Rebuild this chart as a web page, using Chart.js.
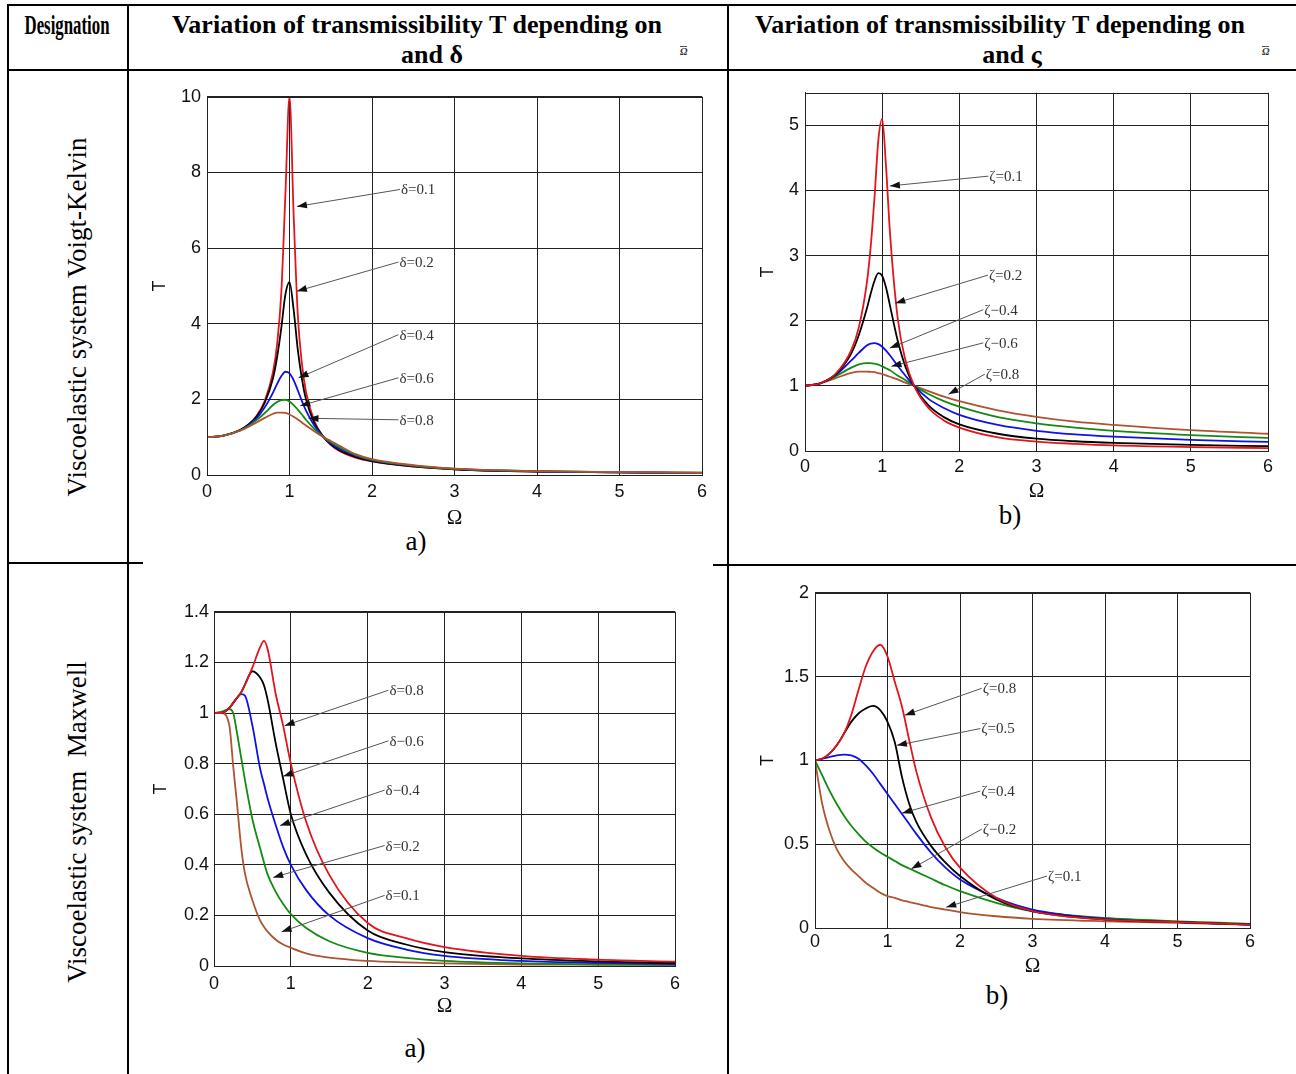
<!DOCTYPE html>
<html>
<head>
<meta charset="utf-8">
<script src="https://cdn.jsdelivr.net/npm/chart.js@4.4.0/dist/chart.umd.min.js"></script>
<style>
body { margin: 0; background: #fff; }
#page { position: relative; width: 1296px; height: 1074px; overflow: hidden; background: #fff; font-family: "Liberation Serif", "Times New Roman", serif; color: #000; }
.ln { position: absolute; background: #000; }
.txt { position: absolute; white-space: nowrap; transform: translate(-50%, -50%); }
.hd { font-weight: bold; font-size: 26px; }
.rot { position: absolute; white-space: nowrap; font-size: 27px; transform: translate(-50%, -50%) rotate(-90deg); }
.cap { font-size: 27px; }
.tiny { position: absolute; font-size: 10px; font-weight: bold; font-style: italic; border-top: 1px solid #555; line-height: 10px; color: #333; }
canvas { position: absolute; }
</style>
</head>
<body>
<div id="page">
  <!-- table rules -->
  <div class="ln" style="left:8px;top:4px;width:1288px;height:2px"></div>
  <div class="ln" style="left:8px;top:69px;width:1288px;height:2px"></div>
  <div class="ln" style="left:7px;top:4px;width:2px;height:1070px"></div>
  <div class="ln" style="left:127px;top:4px;width:2px;height:1070px"></div>
  <div class="ln" style="left:727px;top:4px;width:2px;height:1070px"></div>
  <div class="ln" style="left:8px;top:562px;width:135px;height:2px"></div>
  <div class="ln" style="left:713px;top:564px;width:583px;height:2px"></div>

  <!-- header -->
  <div class="txt hd" style="left:67px;top:25px;font-size:28px;transform:translate(-50%,-50%) scaleX(0.6)">Designation</div>
  <div class="txt hd" style="left:417px;top:25px">Variation of transmissibility T depending on</div>
  <div class="txt hd" style="left:432px;top:55px">and δ</div>
  <div class="tiny" style="left:680px;top:46px">Ω</div>
  <div class="txt hd" style="left:1000px;top:25px">Variation of transmissibility T depending on</div>
  <div class="txt hd" style="left:1012px;top:55px">and ς</div>
  <div class="tiny" style="left:1262px;top:46px">Ω</div>

  <!-- row names -->
  <div class="rot" style="left:77px;top:317px">Viscoelastic system Voigt-Kelvin</div>
  <div class="rot" style="left:77px;top:822px">Viscoelastic system&nbsp; Maxwell</div>

  <!-- panel captions -->
  <div class="txt cap" style="left:416px;top:541px">a)</div>
  <div class="txt cap" style="left:1010px;top:515px">b)</div>
  <div class="txt cap" style="left:415px;top:1048px">a)</div>
  <div class="txt cap" style="left:997px;top:995px">b)</div>
</div>

<script>
// ---- Voigt-Kelvin, T(Ω) for several δ ----
const omegaVK1 = [0, 0.2, 0.4, 0.5, 0.6, 0.7, 0.8, 0.85, 0.9, 0.95, 1, 1.05, 1.1, 1.15, 1.2, 1.3, 1.4, 1.5, 1.6, 1.8, 2, 2.5, 3, 3.5, 4, 5, 6];
const vk1Delta01 = [1, 1.04, 1.19, 1.33, 1.56, 1.96, 2.72, 3.46, 4.8, 7.4, 10.0, 6.9, 4.25, 2.95, 2.2, 1.43, 1.04, 0.8, 0.64, 0.46, 0.36, 0.22, 0.15, 0.11, 0.09, 0.07, 0.05];
const vk1Delta02 = [1, 1.04, 1.19, 1.33, 1.54, 1.91, 2.56, 3.12, 3.88, 4.77, 5.1, 4.37, 3.32, 2.55, 2.0, 1.38, 1.04, 0.81, 0.66, 0.48, 0.37, 0.23, 0.15, 0.11, 0.09, 0.07, 0.05];
const vk1Delta04 = [1, 1.04, 1.18, 1.31, 1.5, 1.79, 2.18, 2.41, 2.61, 2.73, 2.69, 2.51, 2.24, 1.96, 1.7, 1.31, 1.03, 0.84, 0.7, 0.51, 0.39, 0.24, 0.16, 0.12, 0.095, 0.07, 0.055];
const vk1Delta06 = [1, 1.04, 1.18, 1.29, 1.45, 1.64, 1.85, 1.93, 1.98, 1.99, 1.94, 1.85, 1.73, 1.6, 1.46, 1.22, 1.02, 0.87, 0.74, 0.53, 0.4, 0.25, 0.16, 0.12, 0.1, 0.075, 0.06];
const vk1Delta08 = [1, 1.04, 1.17, 1.27, 1.39, 1.51, 1.62, 1.65, 1.65, 1.64, 1.6, 1.54, 1.47, 1.39, 1.31, 1.16, 1.02, 0.9, 0.78, 0.55, 0.42, 0.26, 0.17, 0.13, 0.1, 0.08, 0.06];
const vk1Labels = ['δ=0.1', 'δ=0.2', 'δ=0.4', 'δ=0.6', 'δ=0.8'];

// ---- Voigt-Kelvin, T(Ω) for several ζ ----
const omegaVK2 = [0, 0.2, 0.4, 0.6, 0.7, 0.8, 0.85, 0.9, 0.95, 1, 1.05, 1.1, 1.2, 1.3, 1.414, 1.6, 1.8, 2, 2.5, 3, 3.5, 4, 5, 6];
const vk2Zeta01 = [1, 1.04, 1.19, 1.55, 1.91, 2.57, 3.12, 3.88, 4.77, 5.1, 4.37, 3.37, 2.05, 1.4, 1.0, 0.66, 0.47, 0.36, 0.21, 0.145, 0.11, 0.085, 0.06, 0.045];
const vk2Zeta02 = [1, 1.04, 1.18, 1.5, 1.79, 2.18, 2.41, 2.61, 2.73, 2.69, 2.51, 2.24, 1.7, 1.3, 1.0, 0.7, 0.52, 0.41, 0.265, 0.19, 0.15, 0.125, 0.093, 0.074];
const vk2Zeta04 = [1, 1.04, 1.17, 1.39, 1.51, 1.62, 1.65, 1.655, 1.64, 1.6, 1.54, 1.47, 1.31, 1.16, 1.0, 0.8, 0.66, 0.555, 0.4, 0.31, 0.255, 0.22, 0.17, 0.14];
const vk2Zeta06 = [1, 1.04, 1.15, 1.28, 1.33, 1.35, 1.35, 1.34, 1.325, 1.3, 1.27, 1.24, 1.16, 1.09, 1.0, 0.875, 0.765, 0.68, 0.52, 0.425, 0.36, 0.31, 0.245, 0.2];
const vk2Zeta08 = [1, 1.04, 1.12, 1.2, 1.22, 1.22, 1.215, 1.21, 1.195, 1.18, 1.16, 1.14, 1.1, 1.05, 1.0, 0.92, 0.835, 0.765, 0.625, 0.525, 0.45, 0.4, 0.32, 0.265];
const vk2Labels = ['ζ=0.1', 'ζ=0.2', 'ζ=0.4', 'ζ=0.6', 'ζ=0.8'];

// ---- Maxwell, T(Ω) for several δ ----
const omegaMX1 = [0, 0.1, 0.2, 0.25, 0.3, 0.35, 0.4, 0.5, 0.6, 0.65, 0.7, 0.8, 0.9, 1, 1.2, 1.5, 2, 2.5, 3, 4, 5, 6];
const mx1Delta08 = [1, 1.0, 1.02, 1.04, 1.06, 1.08, 1.11, 1.18, 1.26, 1.285, 1.25, 1.08, 0.95, 0.8, 0.57, 0.36, 0.17, 0.11, 0.075, 0.04, 0.025, 0.017];
const mx1Delta06 = [1, 1.0, 1.02, 1.04, 1.06, 1.08, 1.11, 1.165, 1.14, 1.11, 1.05, 0.885, 0.74, 0.6, 0.44, 0.29, 0.14, 0.085, 0.055, 0.03, 0.018, 0.012];
const mx1Delta04 = [1, 1.0, 1.02, 1.04, 1.06, 1.075, 1.07, 0.95, 0.78, 0.72, 0.66, 0.56, 0.47, 0.4, 0.3, 0.2, 0.11, 0.065, 0.04, 0.02, 0.012, 0.008];
const mx1Delta02 = [1, 1.005, 1.015, 1.0, 0.92, 0.83, 0.74, 0.58, 0.465, 0.41, 0.36, 0.295, 0.245, 0.205, 0.15, 0.098, 0.052, 0.032, 0.02, 0.01, 0.007, 0.005];
const mx1Delta01 = [1, 1.0, 0.95, 0.79, 0.64, 0.48, 0.37, 0.26, 0.18, 0.155, 0.135, 0.105, 0.085, 0.072, 0.05, 0.033, 0.02, 0.014, 0.01, 0.006, 0.005, 0.004];
const mx1Labels = ['δ=0.8', 'δ=0.6', 'δ=0.4', 'δ=0.2', 'δ=0.1'];

// ---- Maxwell, T(Ω) for several ζ ----
const omegaMX2 = [0, 0.1, 0.2, 0.3, 0.4, 0.5, 0.6, 0.7, 0.8, 0.9, 1, 1.1, 1.2, 1.3, 1.4, 1.6, 1.8, 2, 2.5, 3, 4, 5, 6];
const mx2Zeta08 = [1, 1.01, 1.04, 1.09, 1.16, 1.27, 1.42, 1.56, 1.65, 1.69, 1.62, 1.47, 1.32, 1.12, 0.93, 0.66, 0.48, 0.36, 0.18, 0.1, 0.05, 0.035, 0.02];
const mx2Zeta05 = [1, 1.01, 1.04, 1.09, 1.16, 1.23, 1.28, 1.31, 1.325, 1.3, 1.23, 1.11, 0.9, 0.74, 0.63, 0.49, 0.39, 0.31, 0.17, 0.1, 0.05, 0.035, 0.02];
const mx2Zeta04 = [1, 1.01, 1.02, 1.03, 1.035, 1.03, 1.01, 0.97, 0.92, 0.86, 0.8, 0.74, 0.68, 0.62, 0.56, 0.45, 0.36, 0.29, 0.18, 0.11, 0.055, 0.035, 0.02];
const mx2Zeta02 = [1, 0.91, 0.82, 0.74, 0.67, 0.61, 0.56, 0.515, 0.48, 0.45, 0.425, 0.4, 0.375, 0.355, 0.335, 0.295, 0.255, 0.22, 0.15, 0.1, 0.06, 0.04, 0.025];
const mx2Zeta01 = [1, 0.74, 0.58, 0.47, 0.4, 0.35, 0.31, 0.27, 0.24, 0.21, 0.19, 0.18, 0.165, 0.155, 0.145, 0.125, 0.11, 0.095, 0.07, 0.055, 0.04, 0.03, 0.02];
const mx2Labels = ['ζ=0.8', 'ζ=0.5', 'ζ=0.4', 'ζ=0.2', 'ζ=0.1'];

// arrow callouts, in data units: text start and arrow tip
const vk1Notes = [
  { text: 'δ=0.1', tx: 2.34, ty: 7.55, ax: 1.09, ay: 7.1 },
  { text: 'δ=0.2', tx: 2.32, ty: 5.63, ax: 1.09, ay: 4.86 },
  { text: 'δ=0.4', tx: 2.32, ty: 3.71, ax: 1.11, ay: 2.57 },
  { text: 'δ=0.6', tx: 2.32, ty: 2.57, ax: 1.13, ay: 1.83 },
  { text: 'δ=0.8', tx: 2.32, ty: 1.46, ax: 1.23, ay: 1.5 }
];
const vk2Notes = [
  { text: 'ζ=0.1', tx: 2.375, ty: 4.22, ax: 1.1, ay: 4.07 },
  { text: 'ζ=0.2', tx: 2.37, ty: 2.70, ax: 1.17, ay: 2.27 },
  { text: 'ζ−0.4', tx: 2.31, ty: 2.17, ax: 1.10, ay: 1.58 },
  { text: 'ζ−0.6', tx: 2.31, ty: 1.66, ax: 1.12, ay: 1.30 },
  { text: 'ζ=0.8', tx: 2.33, ty: 1.18, ax: 1.86, ay: 0.87 }
];
const mx1Notes = [
  { text: 'δ=0.8', tx: 2.27, ty: 1.09, ax: 0.92, ay: 0.95 },
  { text: 'δ−0.6', tx: 2.27, ty: 0.89, ax: 0.90, ay: 0.75 },
  { text: 'δ−0.4', tx: 2.22, ty: 0.695, ax: 0.86, ay: 0.555 },
  { text: 'δ=0.2', tx: 2.22, ty: 0.476, ax: 0.77, ay: 0.35 },
  { text: 'δ=0.1', tx: 2.22, ty: 0.279, ax: 0.88, ay: 0.135 }
];
const mx2Notes = [
  { text: 'ζ=0.8', tx: 2.30, ty: 1.43, ax: 1.24, ay: 1.27 },
  { text: 'ζ=0.5', tx: 2.28, ty: 1.19, ax: 1.13, ay: 1.09 },
  { text: 'ζ=0.4', tx: 2.28, ty: 0.817, ax: 1.20, ay: 0.685 },
  { text: 'ζ−0.2', tx: 2.30, ty: 0.59, ax: 1.33, ay: 0.353 },
  { text: 'ζ=0.1', tx: 3.2, ty: 0.31, ax: 1.81, ay: 0.124 }
];

const RED = '#e3141b', BLACK = '#000000', BLUE = '#1010e8', GREEN = '#138a13', BROWN = '#ad5430';
const gridColor = '#222';
const tickFont = { family: 'Liberation Sans', size: 18 };

// MATLAB-like closed box around the plot
const framePlugin = {
  id: 'frame',
  afterDatasetsDraw(chart) {
    const a = chart.chartArea, ctx = chart.ctx;
    ctx.save();
    ctx.strokeStyle = gridColor;
    ctx.lineWidth = 1;
    ctx.strokeRect(Math.round(a.left) + 0.5, Math.round(a.top) + 0.5, Math.round(a.right - a.left), Math.round(a.bottom - a.top));
    ctx.restore();
  }
};

function calloutPlugin(notes) {
  return {
    id: 'callouts',
    afterDraw(chart) {
      const ctx = chart.ctx, sx = chart.scales.x, sy = chart.scales.y;
      ctx.save();
      notes.forEach(n => {
        const x0 = sx.getPixelForValue(n.tx), y0 = sy.getPixelForValue(n.ty);
        const x1 = sx.getPixelForValue(n.ax), y1 = sy.getPixelForValue(n.ay);
        ctx.strokeStyle = '#555';
        ctx.lineWidth = 1;
        ctx.beginPath();
        ctx.moveTo(x0, y0);
        ctx.lineTo(x1, y1);
        ctx.stroke();
        // arrow head
        const ang = Math.atan2(y1 - y0, x1 - x0);
        ctx.fillStyle = '#111';
        ctx.beginPath();
        ctx.moveTo(x1, y1);
        ctx.lineTo(x1 - 10 * Math.cos(ang) + 3.5 * Math.sin(ang), y1 - 10 * Math.sin(ang) - 3.5 * Math.cos(ang));
        ctx.lineTo(x1 - 10 * Math.cos(ang) - 3.5 * Math.sin(ang), y1 - 10 * Math.sin(ang) + 3.5 * Math.cos(ang));
        ctx.closePath();
        ctx.fill();
        ctx.fillStyle = '#333';
        ctx.font = '15px "Liberation Serif"';
        ctx.textAlign = 'left';
        ctx.textBaseline = 'middle';
        ctx.fillText(n.text, x0 + 1, y0 + 1);
      });
      ctx.restore();
    }
  };
}

// p: canvas box (cl,ct,cr,cb), plot box (l,t,r,b), label positions, data
function panel(p) {
  const cv = document.createElement('canvas');
  const w = p.cr - p.cl, h = p.cb - p.ct;
  cv.width = w; cv.height = h;
  cv.style.left = p.cl + 'px';
  cv.style.top = p.ct + 'px';
  cv.style.width = w + 'px';
  cv.style.height = h + 'px';
  document.getElementById('page').appendChild(cv);

  const lhTick = tickFont.size * 1.2;
  const datasets = p.series.map((vals, i) => ({
    label: p.labels[i],
    data: p.omega.map((x, k) => ({ x: x, y: vals[k] })),
    borderColor: p.colors[i],
    borderWidth: 1.8,
    pointRadius: 0,
    fill: false,
    cubicInterpolationMode: 'monotone'
  }));

  new Chart(cv, {
    type: 'line',
    data: { datasets },
    options: {
      responsive: false,
      animation: false,
      devicePixelRatio: 1,
      layout: { padding: { top: p.t - p.ct, right: p.cr - p.r, left: 0, bottom: 0 } },
      plugins: { legend: { display: false }, tooltip: { enabled: false } },
      scales: {
        x: {
          type: 'linear', min: 0, max: 6,
          afterFit: s => { s.height = p.cb - p.b; },
          ticks: { stepSize: 1, padding: p.xTickY - p.b - lhTick / 2, color: '#111', font: tickFont, maxRotation: 0 },
          grid: { color: gridColor, drawTicks: false },
          border: { color: gridColor },
          title: { display: true, text: 'Ω', color: '#111', font: { family: 'Liberation Serif', size: 21 },
                   padding: { top: 0, bottom: p.cb - p.xTitleY - 12.6 } }
        },
        y: {
          type: 'linear', min: 0, max: p.yMax,
          afterFit: s => { s.width = p.l - p.cl; },
          ticks: { stepSize: p.yStep, includeBounds: false, padding: p.l - p.yTickR, color: '#111', font: tickFont,
                   callback: v => String(+v.toFixed(2)) },
          grid: { color: gridColor, drawTicks: false },
          border: { color: gridColor },
          title: { display: true, text: 'T', color: '#111', font: { family: 'Liberation Sans', size: 18 },
                   padding: { top: p.yTitleX - p.cl - 10.8, bottom: 0 } }
        }
      }
    },
    plugins: [framePlugin, calloutPlugin(p.notes)]
  });
}

panel({
  cl: 138, ct: 80, cr: 716, cb: 531, l: 207, t: 93, r: 702, b: 475,
  xTickY: 492, xTitleY: 518, yTickR: 201, yTitleX: 160,
  yMax: 10, yStep: 2,
  omega: omegaVK1,
  series: [vk1Delta08, vk1Delta06, vk1Delta04, vk1Delta02, vk1Delta01],
  labels: [vk1Labels[4], vk1Labels[3], vk1Labels[2], vk1Labels[1], vk1Labels[0]],
  colors: [BROWN, GREEN, BLUE, BLACK, RED],
  notes: vk1Notes
});

panel({
  cl: 750, ct: 76, cr: 1282, cb: 504, l: 805, t: 89, r: 1268, b: 451,
  xTickY: 467, xTitleY: 491, yTickR: 799, yTitleX: 768,
  yMax: 5.5, yStep: 1,
  omega: omegaVK2,
  series: [vk2Zeta01, vk2Zeta02, vk2Zeta04, vk2Zeta06, vk2Zeta08],
  labels: vk2Labels,
  colors: [RED, BLACK, BLUE, GREEN, BROWN],
  notes: vk2Notes
});

panel({
  cl: 145, ct: 596, cr: 690, cb: 1020, l: 214, t: 610, r: 675, b: 966,
  xTickY: 984, xTitleY: 1006, yTickR: 209, yTitleX: 161,
  yMax: 1.4, yStep: 0.2,
  omega: omegaMX1,
  series: [mx1Delta08, mx1Delta06, mx1Delta04, mx1Delta02, mx1Delta01],
  labels: mx1Labels,
  colors: [RED, BLACK, BLUE, GREEN, BROWN],
  notes: mx1Notes
});

panel({
  cl: 755, ct: 576, cr: 1264, cb: 980, l: 815, t: 590, r: 1250, b: 928,
  xTickY: 942, xTitleY: 966, yTickR: 809, yTitleX: 768,
  yMax: 2, yStep: 0.5,
  omega: omegaMX2,
  series: [mx2Zeta08, mx2Zeta05, mx2Zeta04, mx2Zeta02, mx2Zeta01],
  labels: mx2Labels,
  colors: [RED, BLACK, BLUE, GREEN, BROWN],
  notes: mx2Notes
});
</script>
</body>
</html>
